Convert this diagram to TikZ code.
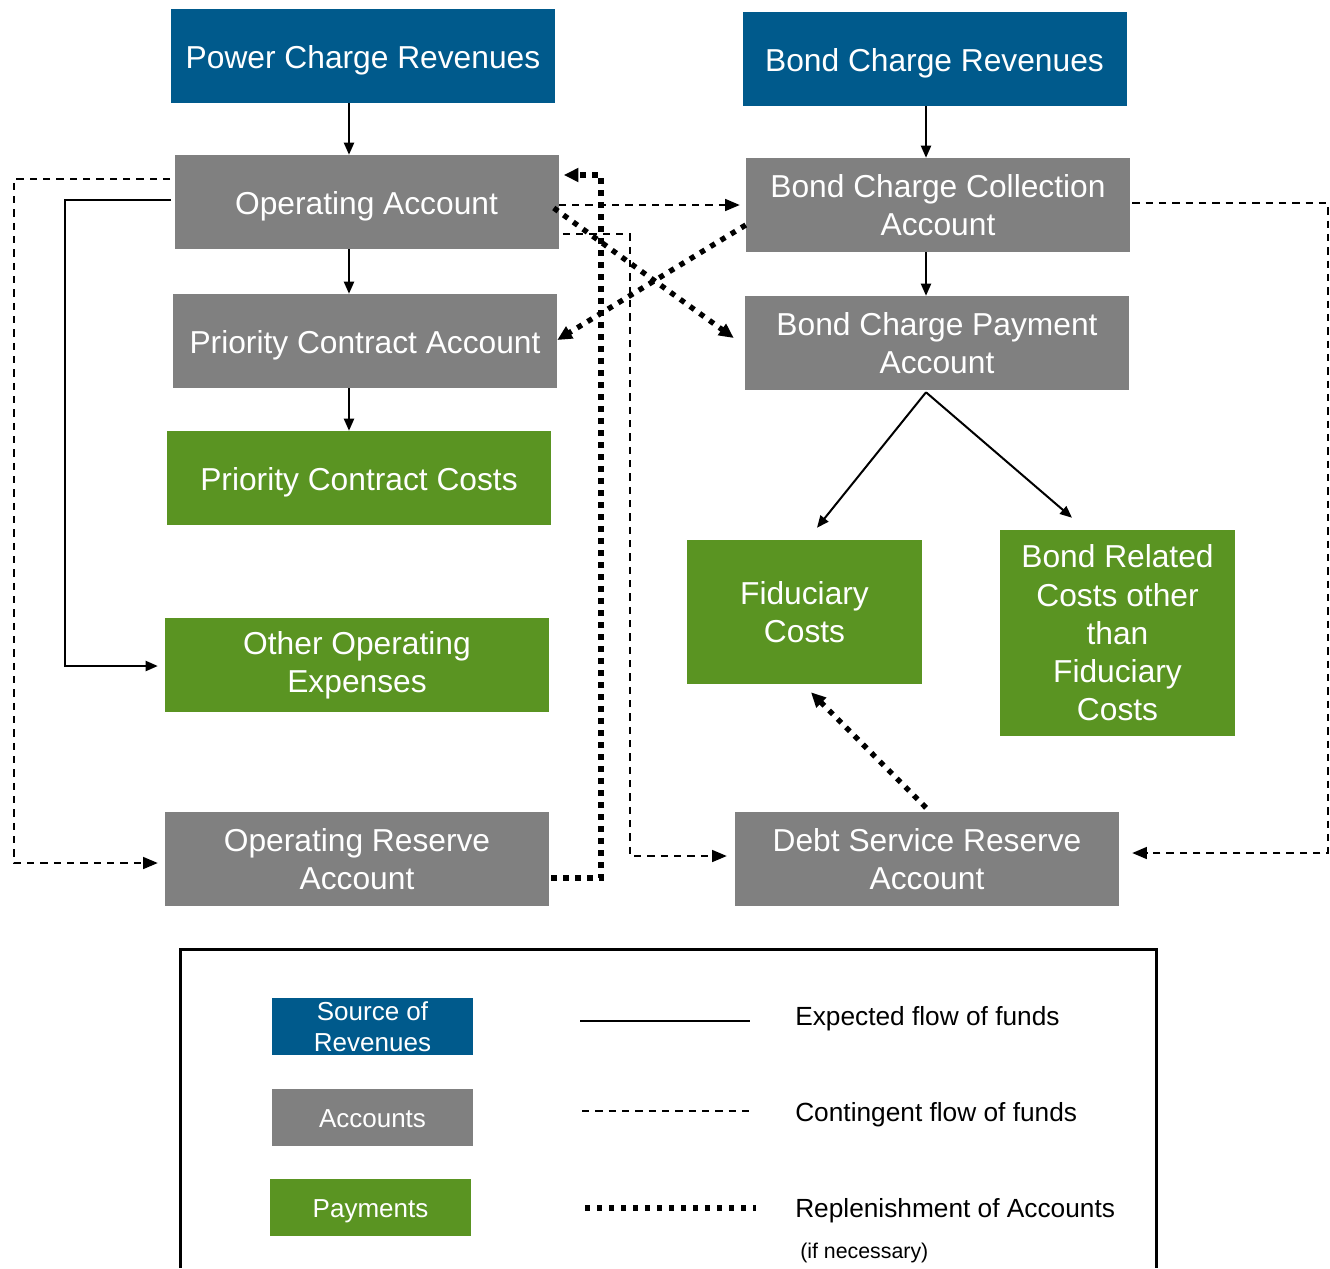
\documentclass[tikz,border=0pt]{standalone}
\usepackage{fontspec}
\setmainfont{Liberation Sans}
\usetikzlibrary{arrows.meta,calc}
\definecolor{cblue}{HTML}{005A8C}
\definecolor{cgray}{HTML}{808080}
\definecolor{cgreen}{HTML}{5A9422}
\begin{document}
\begin{tikzpicture}[x=0.75pt,y=-0.75pt,
  box/.style={rectangle, inner sep=0pt, text=white, align=center,
    font=\fontsize{23.8}{28.7}\selectfont, minimum width=288pt, minimum height=70.5pt},
  one/.style={text height=18.6pt, text depth=0pt},
  src/.style={box, fill=cblue},
  acc/.style={box, fill=cgray},
  pay/.style={box, fill=cgreen},
  lbox/.style={rectangle, inner sep=0pt, text=white, align=center,
    font=\fontsize{19.5}{23.3}\selectfont, minimum width=150.75pt, minimum height=42.75pt},
  lone/.style={text height=15.2pt, text depth=0pt},
  ltext/.style={anchor=west, inner sep=0pt, font=\fontsize{19.7}{23.5}\selectfont},
  flow/.style={line width=1.5pt, -{Triangle[length=9pt,width=7.5pt]}},
  cont/.style={line width=1.2pt, dash pattern=on 5.5pt off 4.5pt, -{Triangle[length=11pt,width=9pt]}},
  repl/.style={line width=4pt, dash pattern=on 4pt off 5pt, -{Triangle[length=11pt,width=10pt]}}
]
\useasboundingbox (0,0) rectangle (1330,1268);

% boxes
\node[src, one] (power) at (363,56) {Power Charge Revenues};
\node[src, one] (bcrev) at (934.5,59) {Bond Charge Revenues};
\node[acc, one] (opacc) at (366.5,202) {Operating Account};
\node[acc] (bcca) at (938,205) {Bond Charge Collection\\Account};
\node[acc, one] (pca) at (365,341) {Priority Contract Account};
\node[acc] (bcpa) at (937,343) {Bond Charge Payment\\Account};
\node[pay, one] (pcc) at (359,478) {Priority Contract Costs};
\node[pay] (ooe) at (357,665) {Other Operating\\Expenses};
\node[pay, minimum width=176.25pt, minimum height=108pt] (fid) at (804.5,612) {Fiduciary\\Costs};
\node[pay, minimum width=176.25pt, minimum height=154.5pt] (brc) at (1117.5,633) {Bond Related\\Costs other\\than\\Fiduciary\\Costs};
\node[acc] (ora) at (357,859) {Operating Reserve\\Account};
\node[acc] (dsra) at (927,859) {Debt Service Reserve\\Account};

% helper coordinates
\coordinate (xL) at (349,0);
\coordinate (xR) at (926,0);
\coordinate (cL0) at (14,0);
\coordinate (cL1) at (65,0);
\coordinate (cM) at (630,0);
\coordinate (cD) at (601,0);
\coordinate (cR) at (1328,0);

% expected flows
\draw[flow] (power.south -| xL) -- (opacc.north -| xL);
\draw[flow] (opacc.south -| xL) -- (pca.north -| xL);
\draw[flow] (pca.south -| xL) -- (pcc.north -| xL);
\draw[flow] (bcrev.south -| xR) -- (bcca.north -| xR);
\draw[flow] (bcca.south -| xR) -- (bcpa.north -| xR);
\draw[flow] ($(bcpa.south -| xR)+(0,2)$) -- ($(fid.north)+(12.5,-12)$);
\draw[flow] ($(bcpa.south -| xR)+(0,2)$) -- ($(brc.north)+(-45.5,-12)$);
\coordinate (opL) at ($(opacc.west)+(-3,-2)$);
\coordinate (ooeIn) at ($(ooe.west)+(-7,1)$);
\draw[flow] (opL) -| (cL1 |- ooeIn) -- (ooeIn);

% contingent flows
\coordinate (opL2) at ($(opacc.west)+(-4,-23)$);
\coordinate (oraIn) at ($(ora.west)+(-7,4)$);
\draw[cont] (opL2) -| (cL0 |- oraIn) -- (oraIn);
\draw[cont] (opacc.east |- bcca.west) -- ($(bcca.west)+(-6,0)$);
\coordinate (opR) at ($(opacc.east)+(4,32)$);
\coordinate (dsraIn) at ($(dsra.west)+(-8,-3)$);
\draw[cont] (opR) -| (cM |- dsraIn) -- (dsraIn);
\coordinate (bccaR) at ($(bcca.east)+(2,-2)$);
\coordinate (dsraInR) at ($(dsra.east)+(13,-6)$);
\draw[cont] (bccaR) -| (cR |- dsraInR) -- (dsraInR);

% replenishment
\coordinate (oraR) at ($(ora.east)+(2,19)$);
\coordinate (opIn) at ($(opacc.east)+(5,-27)$);
\draw[repl] (oraR) -| (cD |- opIn) -- (opIn);
\draw[repl] ($(opacc.east)+(-5,6)$) -- ($(bcpa.west)+(-11,-5)$);
\draw[repl] ($(bcca.west)+(0,20)$) -- ($(pca.east)+(0,-1)$);
\draw[repl] ($(dsra.north)+(-1,-4)$) -- ($(fid.south)+(6.5,8)$);

% legend
\draw[line width=2.25pt] (180,1268) -- (180,949) -- (1156,949) -- (1156,1268);
\node[lbox, fill=cblue] (l1) at (372.5,1026.5) {Source of\\Revenues};
\node[lbox, lone, fill=cgray] (l2) at (372.5,1117.5) {Accounts};
\node[lbox, lone, fill=cgreen] (l3) at (370.5,1207.5) {Payments};
\coordinate (s1a) at (580,1021); \coordinate (s1b) at (750,1021);
\coordinate (s2a) at (582,1111); \coordinate (s2b) at (753,1111);
\coordinate (s3a) at (585,1208); \coordinate (s3b) at (756,1208);
\draw[line width=1.5pt] (s1a) -- (s1b);
\draw[line width=1.1pt, dash pattern=on 5.5pt off 4.5pt] (s2a) -- (s2b);
\draw[line width=4pt, dash pattern=on 4pt off 5pt] (s3a) -- (s3b);
\node[ltext] (t1) at (795,1019) {Expected flow of funds};
\node[ltext] (t2) at (795,1115) {Contingent flow of funds};
\node[ltext] (t3) at (795,1211) {Replenishment of Accounts};
\node[ltext, font=\fontsize{16}{19}\selectfont] (t4) at (800,1253) {(if necessary)};
\end{tikzpicture}
\end{document}
